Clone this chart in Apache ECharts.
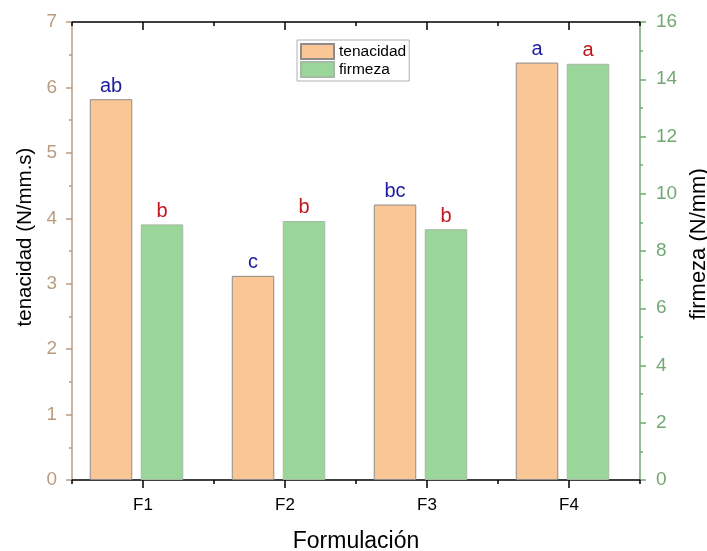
<!DOCTYPE html>
<html><head><meta charset="utf-8">
<script src="https://cdn.jsdelivr.net/npm/echarts@6/dist/echarts.min.js"></script>
<style>html,body{margin:0;padding:0;background:#fff}#c{width:707px;height:551px}</style>
</head><body><div id="c"></div>
<script>
const categories = ['F1', 'F2', 'F3', 'F4'];
const tenacidad = [5.82, 3.12, 4.21, 6.38];
const firmeza = [8.93, 9.05, 8.76, 14.54];
const tenacidadLetters = ['ab', 'c', 'bc', 'a'];
const firmezaLetters = ['b', 'b', 'b', 'a'];
const leftAxis = { min: 0, max: 7, interval: 1 };
const rightAxis = { min: 0, max: 16, interval: 2 };

const FONT = '"Liberation Sans", Arial, sans-serif';
const TAN = '#b99c80';
const GREEN = '#73a873';

const chart = echarts.init(document.getElementById('c'), null, { renderer: 'canvas' });

const hiddenX = { type: 'category', data: categories, gridIndex: 1, show: false };

chart.setOption({
  animation: false,
  backgroundColor: '#fff',
  textStyle: { fontFamily: FONT },
  legend: {
    orient: 'vertical', left: 297, top: 40,
    padding: [3, 3, 3, 3], itemGap: 1,
    itemWidth: 33, itemHeight: 15, icon: 'rect',
    borderColor: '#b0b0b0', borderWidth: 1,
    textStyle: { fontSize: 15.5, lineHeight: 16, color: '#000', fontFamily: FONT },
    data: ['tenacidad', 'firmeza']
  },
  grid: [
    { left: 72, right: 67, top: 22, bottom: 71, outerBoundsMode: 'none', containLabel: false },
    { left: 65.5, right: 73.5, top: 22, bottom: 71, outerBoundsMode: 'none', containLabel: false }
  ],
  xAxis: [
    { // bottom, labels + center ticks
      type: 'category', data: categories, gridIndex: 0, position: 'bottom',
      axisLine: { onZero: false, lineStyle: { color: '#000', width: 1.5 } },
      axisTick: { show: true, alignWithLabel: true, length: 8, lineStyle: { color: '#000', width: 1.5 } },
      axisLabel: { fontSize: 17, color: '#000', margin: 17, fontFamily: FONT },
      name: 'Formulación', nameLocation: 'middle', nameGap: 50,
      nameTextStyle: { fontSize: 23, color: '#000', fontFamily: FONT }
    },
    { // bottom, boundary ticks
      type: 'category', data: categories, gridIndex: 0, position: 'bottom',
      axisLine: { show: false, onZero: false },
      axisTick: { show: true, length: 4, lineStyle: { color: '#000', width: 1.5 } },
      axisLabel: { show: false }
    },
    { // top, center ticks
      type: 'category', data: categories, gridIndex: 0, position: 'top',
      axisLine: { onZero: false, lineStyle: { color: '#000', width: 1.5 } },
      axisTick: { show: true, inside: true, alignWithLabel: true, length: 8, lineStyle: { color: '#000', width: 1.5 } },
      axisLabel: { show: false }
    },
    { // top, boundary ticks
      type: 'category', data: categories, gridIndex: 0, position: 'top',
      axisLine: { show: false, onZero: false },
      axisTick: { show: true, inside: true, length: 4, lineStyle: { color: '#000', width: 1.5 } },
      axisLabel: { show: false }
    },
    hiddenX
  ],
  yAxis: [
    {
      type: 'value', gridIndex: 0, position: 'left',
      min: leftAxis.min, max: leftAxis.max, interval: leftAxis.interval,
      axisLine: { show: true, onZero: false, lineStyle: { color: TAN, width: 1.5 } },
      axisTick: { show: true, length: 6, lineStyle: { color: TAN, width: 1.5 } },
      minorTick: { show: true, splitNumber: 2, length: 3, lineStyle: { color: TAN, width: 1.5 } },
      splitLine: { show: false },
      axisLabel: { fontSize: 19, color: TAN, margin: 15, fontFamily: FONT },
      name: 'tenacidad (N/mm.s)', nameLocation: 'middle', nameGap: 31, nameRotate: 90,
      nameTextStyle: { fontSize: 20.5, color: '#000', fontFamily: FONT, padding: [0, 0, 0, 28] }
    },
    {
      type: 'value', gridIndex: 0, position: 'right',
      min: rightAxis.min, max: rightAxis.max, interval: rightAxis.interval,
      axisLine: { show: true, onZero: false, lineStyle: { color: GREEN, width: 1.5 } },
      axisTick: { show: true, length: 6, lineStyle: { color: GREEN, width: 1.5 } },
      minorTick: { show: true, splitNumber: 2, length: 3, lineStyle: { color: GREEN, width: 1.5 } },
      splitLine: { show: false },
      axisLabel: { fontSize: 19, color: GREEN, margin: 16, fontFamily: FONT },
      name: 'firmeza (N/mm)', nameLocation: 'middle', nameGap: 48, nameRotate: 90,
      nameTextStyle: { fontSize: 22, color: '#000', fontFamily: FONT, padding: [0, 0, 0, 14] }
    },
    { type: 'value', gridIndex: 1, min: leftAxis.min, max: leftAxis.max, interval: leftAxis.interval, show: false, splitLine: { show: false } },
    { type: 'value', gridIndex: 1, min: rightAxis.min, max: rightAxis.max, interval: rightAxis.interval, show: false, splitLine: { show: false } }
  ],
  series: [
    {
      name: 'tenacidad', type: 'bar', xAxisIndex: 4, yAxisIndex: 2,
      data: tenacidad, barWidth: 42.5, barGap: '20%',
      itemStyle: { color: '#fbc695', borderColor: '#8c8c8c', borderWidth: 1 },
      label: {
        show: true, position: 'top', distance: 3, fontSize: 20, color: '#1c1ca0', fontFamily: FONT,
        formatter: p => tenacidadLetters[p.dataIndex]
      }
    },
    {
      name: 'firmeza', type: 'bar', xAxisIndex: 4, yAxisIndex: 3,
      data: firmeza, barWidth: 42.5, barGap: '20%',
      itemStyle: { color: '#9ad69a', borderColor: '#a6b8a6', borderWidth: 1 },
      label: {
        show: true, position: 'top', distance: 3, fontSize: 20, color: '#c0161d', fontFamily: FONT,
        formatter: p => firmezaLetters[p.dataIndex]
      }
    }
  ]
});
</script>
</body></html>
